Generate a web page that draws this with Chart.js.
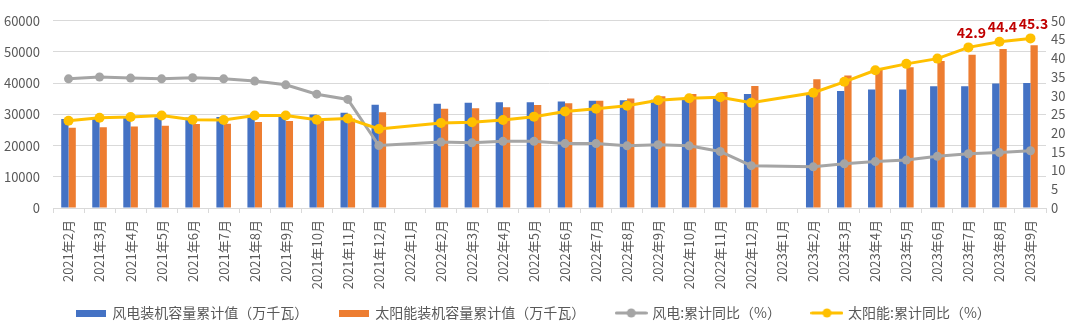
<!DOCTYPE html>
<html>
<head>
<meta charset="utf-8">
<script src="https://cdn.jsdelivr.net/npm/chart.js@4/dist/chart.umd.min.js"></script>
<style>
  html, body { margin: 0; padding: 0; background: #fff; }
  #wrap { width: 1080px; height: 325px; position: relative; }
</style>
</head>
<body>
<div id="wrap"><canvas id="c" width="1080" height="325"></canvas></div>
<script>
const categories = ['2021年2月','2021年3月','2021年4月','2021年5月','2021年6月','2021年7月','2021年8月','2021年9月','2021年10月','2021年11月','2021年12月','2022年1月','2022年2月','2022年3月','2022年4月','2022年5月','2022年6月','2022年7月','2022年8月','2022年9月','2022年10月','2022年11月','2022年12月','2023年1月','2023年2月','2023年3月','2023年4月','2023年5月','2023年6月','2023年7月','2023年8月','2023年9月'];

const windCapacity = [28500, 28700, 28900, 29000, 29000, 29200, 29500, 29700, 30000, 30500, 33100, null, 33400, 33700, 33900, 33900, 34100, 34400, 34500, 34700, 34800, 34900, 36500, null, 36300, 37500, 38000, 38000, 39000, 39000, 39900, 40100];
const solarCapacity = [25700, 25900, 26100, 26400, 26900, 27000, 27600, 27900, 28200, 28700, 30700, null, 31800, 32000, 32300, 33000, 33600, 34400, 35100, 35800, 36500, 37200, 39100, null, 41300, 42500, 44200, 45100, 47100, 49100, 51000, 52200];
const windGrowth = [34.5, 35.0, 34.7, 34.5, 34.8, 34.5, 33.9, 32.9, 30.4, 29.0, 16.7, null, 17.6, 17.4, 17.8, 17.8, 17.2, 17.2, 16.6, 16.9, 16.6, 15.1, 11.3, null, 11.0, 11.8, 12.4, 12.8, 13.8, 14.5, 14.8, 15.3];
const solarGrowth = [23.3, 24.1, 24.3, 24.7, 23.6, 23.5, 24.7, 24.7, 23.6, 23.9, 21.1, null, 22.7, 22.9, 23.5, 24.4, 25.8, 26.5, 27.3, 28.8, 29.3, 29.6, 28.1, null, 30.8, 33.7, 36.8, 38.5, 39.9, 42.9, 44.4, 45.3];

const seriesNames = ['风电装机容量累计值（万千瓦）', '太阳能装机容量累计值（万千瓦）', '风电:累计同比（%）', '太阳能:累计同比（%）'];
const leftTicks = { min: 0, max: 60000, step: 10000 };
const rightTicks = { min: 0, max: 50, step: 5 };
const solarLabelIndices = [29, 30, 31];

const C_BLUE = '#4472C4', C_ORANGE = '#ED7D31', C_GRAY = '#A5A5A5', C_YELLOW = '#FFC000';
const FONT = "'Noto Sans CJK SC', 'Noto Sans', sans-serif";
const TXT = '#595959';

function rectIcon(color) {
  const c = document.createElement('canvas');
  c.width = 30; c.height = 7;
  const x = c.getContext('2d');
  x.fillStyle = color; x.fillRect(0, 0, 30, 7);
  return c;
}
function lineIcon(color) {
  const c = document.createElement('canvas');
  c.width = 33; c.height = 10;
  const x = c.getContext('2d');
  x.strokeStyle = color; x.lineWidth = 3; x.lineCap = 'round';
  x.beginPath(); x.moveTo(1.5, 5); x.lineTo(31.5, 5); x.stroke();
  x.fillStyle = color; x.beginPath(); x.arc(16.5, 5, 4.5, 0, Math.PI * 2); x.fill();
  return c;
}
const icons = [rectIcon(C_BLUE), rectIcon(C_ORANGE), lineIcon(C_GRAY), lineIcon(C_YELLOW)];

const labelPlugin = {
  id: 'solarLabels',
  afterDatasetsDraw(chart) {
    const meta = chart.getDatasetMeta(3);
    const ctx = chart.ctx;
    ctx.save();
    ctx.font = 'bold 14px ' + FONT;
    ctx.fillStyle = '#C00000';
    ctx.textAlign = 'center';
    ctx.textBaseline = 'middle';
    solarLabelIndices.forEach(i => {
      const pt = meta.data[i];
      ctx.fillText(solarGrowth[i].toFixed(1), pt.x + 3, pt.y - 15);
    });
    ctx.restore();
  }
};

const legendShift = {
  id: 'legendShift',
  afterLayout(chart) {
    const lg = chart.legend;
    lg.top = 313 - 32 - 7;
    lg.left -= 6; lg.right -= 6;
  }
};

new Chart(document.getElementById('c'), {
  data: {
    labels: categories,
    datasets: [
      { type: 'bar', label: seriesNames[0], data: windCapacity, backgroundColor: C_BLUE, yAxisID: 'y', order: 2,
        barPercentage: 1, categoryPercentage: 0.47 },
      { type: 'bar', label: seriesNames[1], data: solarCapacity, backgroundColor: C_ORANGE, yAxisID: 'y', order: 3,
        barPercentage: 1, categoryPercentage: 0.47 },
      { type: 'line', label: seriesNames[2], data: windGrowth, borderColor: C_GRAY, backgroundColor: C_GRAY, yAxisID: 'y1',
        order: 1, borderWidth: 3, pointRadius: 4.5, pointBorderWidth: 0, spanGaps: true, tension: 0 },
      { type: 'line', label: seriesNames[3], data: solarGrowth, borderColor: C_YELLOW, backgroundColor: C_YELLOW, yAxisID: 'y1',
        order: 0, borderWidth: 3, pointRadius: 5, pointBorderWidth: 0, spanGaps: true, tension: 0 }
    ]
  },
  options: {
    responsive: false,
    animation: false,
    devicePixelRatio: 1,
    layout: { padding: { top: 10, left: 0, right: 0, bottom: 0 } },
    plugins: {
      tooltip: { enabled: false },
      legend: {
        position: 'bottom',
        maxHeight: 30,
        labels: {
          usePointStyle: true,
          pointStyleWidth: 28,
          padding: 32,
          color: TXT,
          font: { size: 14, family: FONT },
          generateLabels(chart) {
            return chart.data.datasets.map((ds, i) => ({
              text: ds.label, pointStyle: icons[i], fontColor: TXT, hidden: false,
              datasetIndex: i, lineWidth: 0, fillStyle: 'transparent', strokeStyle: 'transparent'
            }));
          }
        }
      }
    },
    scales: {
      x: {
        type: 'category',
        offset: true,
        grid: { display: true, offset: true, drawOnChartArea: false, drawTicks: true, tickLength: 5, color: '#D9D9D9' },
        border: { display: true, color: '#D9D9D9' },
        ticks: { color: TXT, font: { size: 13, family: FONT }, minRotation: 90, maxRotation: 90, autoSkip: false, padding: 7 },
        afterFit(s) { s.height = 87; }
      },
      y: {
        position: 'left',
        min: leftTicks.min, max: leftTicks.max,
        grid: { color: '#D9D9D9', drawTicks: false },
        border: { display: false },
        ticks: { stepSize: leftTicks.step, color: TXT, font: { size: 13, family: FONT }, padding: 13,
                 callback: v => String(v) },
        afterFit(s) { s.width = 53; }
      },
      y1: {
        position: 'right',
        min: rightTicks.min, max: rightTicks.max,
        grid: { display: false, drawTicks: false },
        border: { display: false },
        ticks: { stepSize: rightTicks.step, color: TXT, font: { size: 13, family: FONT }, padding: 5,
                 callback: v => String(v) },
        afterFit(s) { s.width = 34; }
      }
    }
  },
  plugins: [labelPlugin, legendShift]
});
</script>
</body>
</html>
